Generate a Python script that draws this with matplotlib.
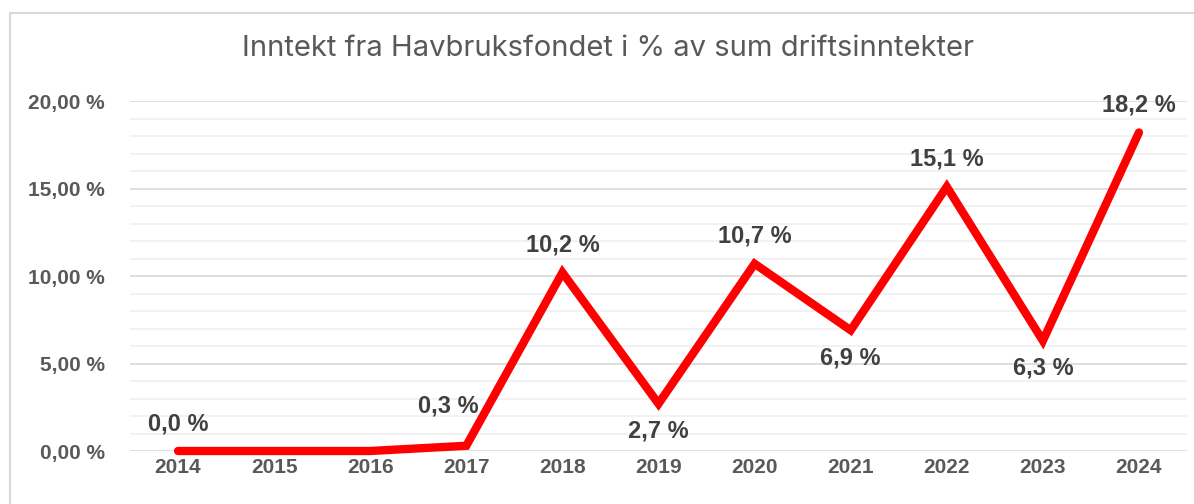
import matplotlib
matplotlib.use("Agg")
import matplotlib.pyplot as plt
from matplotlib.patches import Rectangle
from matplotlib.ticker import MultipleLocator

years = ["2014", "2015", "2016", "2017", "2018", "2019", "2020", "2021", "2022", "2023", "2024"]
values = [0.0, 0.0, 0.0, 0.3, 10.2, 2.7, 10.7, 6.9, 15.1, 6.3, 18.2]
labels = ["0,0 %", "", "", "0,3 %", "10,2 %", "2,7 %", "10,7 %", "6,9 %", "15,1 %", "6,3 %", "18,2 %"]
# where each label sits: above / below / upper-left
label_pos = ["above", "", "", "left", "above", "below", "above", "below", "above", "below", "above"]
yticks = [0, 5, 10, 15, 20]

narrow = ["Liberation Sans Narrow", "Liberation Sans", "DejaVu Sans"]
grey = "#595959"
dark = "#404040"

fig = plt.figure(figsize=(11.94, 5.04), dpi=100)
ax = fig.add_axes([130 / 1194, 1 - 451 / 504, 1057 / 1194, 350 / 504])

x = list(range(len(years)))
ax.plot(x, values, color="#FF0000", lw=6, solid_capstyle="round", solid_joinstyle="miter", clip_on=False, zorder=3)

offsets = {"above": (0, 16, "center", "bottom"),
           "below": (0, -16, "center", "top"),
           "left": (-18, 40, "center", "center")}
for i, (v, lab, pos) in enumerate(zip(values, labels, label_pos)):
    if not lab:
        continue
    dx, dy, ha, va = offsets[pos]
    ax.annotate(lab, (i, v), xytext=(dx, dy), textcoords="offset pixels", ha=ha, va=va,
                fontsize=17, fontweight="bold", color=dark, family=narrow)

ax.set_xlim(-0.5, len(years) - 0.5)
ax.set_ylim(0, 20)
ax.set_xticks(x)
ax.set_xticklabels(years)
ax.set_yticks(yticks)
ax.set_yticklabels([f"{t:.2f}".replace(".", ",") + " %" for t in yticks])
ax.yaxis.set_minor_locator(MultipleLocator(1))
ax.grid(which="major", axis="y", color="#D9D9D9", lw=1.2)
ax.grid(which="minor", axis="y", color="#F0F0F0", lw=1.2)
ax.set_axisbelow(True)
for s in ax.spines.values():
    s.set_visible(False)
ax.tick_params(axis="both", which="both", length=0)
ax.tick_params(axis="y", pad=18)
ax.tick_params(axis="x", pad=5)
for t in ax.get_xticklabels() + ax.get_yticklabels():
    t.set_fontsize(15)
    t.set_fontweight("bold")
    t.set_color(grey)
    t.set_family(narrow)

fig.text(608 / 1194, 1 - 49 / 504, "Inntekt fra Havbruksfondet i % av sum driftsinntekter",
         ha="center", va="center", fontsize=21, color=grey, family=["Inter", "Liberation Sans", "DejaVu Sans"])

fig.patches.append(Rectangle((10 / 1194, -0.1), 1.2, 1 - 13 / 504 + 0.1, transform=fig.transFigure,
                             fill=False, edgecolor="#D9D9D9", lw=1.5))

fig.savefig("out.png", dpi=100, facecolor="white")
